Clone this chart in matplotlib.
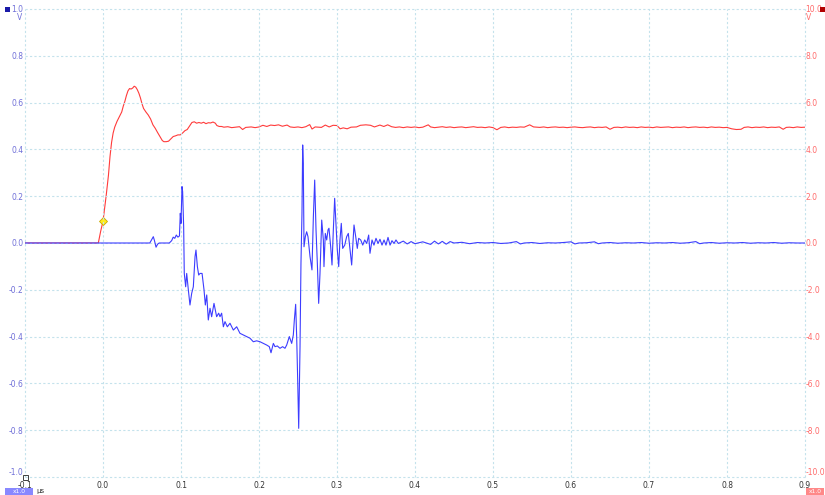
import numpy as np
import matplotlib
matplotlib.use("Agg")
import matplotlib.pyplot as plt
from matplotlib.patches import Rectangle

# channel B (red, right scale, V)
red_t = [-0.1, -0.006, -0.003, 0.0, 0.004, 0.007, 0.009, 0.011, 0.013, 0.015, 0.018, 0.021,
         0.024, 0.026, 0.028, 0.030, 0.032, 0.034, 0.036, 0.038, 0.040, 0.042, 0.044, 0.046,
         0.048, 0.050, 0.052, 0.055, 0.058, 0.061, 0.064, 0.067, 0.070, 0.073, 0.076, 0.078,
         0.081, 0.084, 0.087, 0.090, 0.093, 0.096, 0.099, 0.102, 0.105, 0.108, 0.111, 0.114,
         0.117, 0.120, 0.123, 0.126, 0.129, 0.132, 0.135, 0.138, 0.141, 0.144, 0.146, 0.149,
         0.152, 0.155, 0.160, 0.165, 0.170, 0.175, 0.179, 0.183, 0.190, 0.195, 0.200, 0.205,
         0.210, 0.215, 0.220, 0.225, 0.230, 0.236, 0.240, 0.245, 0.250, 0.255, 0.260, 0.265,
         0.268, 0.272, 0.280, 0.285, 0.290, 0.295, 0.300, 0.304, 0.308, 0.313, 0.318, 0.325,
         0.330, 0.337, 0.343, 0.348, 0.355, 0.360, 0.365, 0.370, 0.375, 0.380, 0.385, 0.390,
         0.395, 0.400, 0.405, 0.410, 0.417, 0.420, 0.425, 0.430, 0.435, 0.440, 0.445, 0.450,
         0.455, 0.460, 0.465, 0.470, 0.475, 0.480, 0.485, 0.490, 0.495, 0.500, 0.505, 0.510,
         0.515, 0.520, 0.525, 0.530, 0.535, 0.540, 0.547, 0.552, 0.560, 0.565, 0.570, 0.575,
         0.580, 0.585, 0.590, 0.595, 0.600, 0.605, 0.610, 0.615, 0.620, 0.625, 0.630, 0.635,
         0.640, 0.645, 0.650, 0.655, 0.660, 0.665, 0.670, 0.675, 0.680, 0.685, 0.690, 0.695,
         0.700, 0.705, 0.710, 0.715, 0.720, 0.725, 0.730, 0.735, 0.740, 0.745, 0.750, 0.755,
         0.760, 0.765, 0.770, 0.775, 0.780, 0.785, 0.790, 0.795, 0.800, 0.806, 0.812, 0.818,
         0.822, 0.827, 0.832, 0.837, 0.842, 0.847, 0.852, 0.857, 0.862, 0.867, 0.872, 0.876,
         0.880, 0.885, 0.890, 0.895, 0.900]
red_v = [0.0, 0.0, 0.5, 0.93, 2.0, 2.9, 3.7, 4.3, 4.7, 4.95, 5.2, 5.4,
         5.6, 5.85, 6.05, 6.3, 6.5, 6.6, 6.58, 6.62, 6.7, 6.66, 6.55, 6.4,
         6.2, 5.95, 5.75, 5.6, 5.47, 5.3, 5.05, 4.9, 4.72, 4.55, 4.38, 4.33,
         4.33, 4.35, 4.45, 4.55, 4.58, 4.62, 4.62, 4.7, 4.8, 4.85, 5.0, 5.15,
         5.18, 5.12, 5.15, 5.12, 5.16, 5.1, 5.14, 5.13, 5.17, 5.12, 5.02, 4.98,
         4.98, 4.95, 4.97, 4.93, 4.95, 4.97, 4.85, 4.94, 4.96, 4.93, 4.96, 5.03,
         4.98, 5.04, 5.02, 5.05, 4.99, 5.04, 4.96, 4.94, 4.96, 4.93, 4.97, 5.06,
         4.87, 4.96, 4.94, 5.04, 4.96, 5.03, 5.02, 4.88, 4.92, 4.88, 4.95, 4.96,
         5.03, 5.05, 5.03, 4.96, 5.04, 4.98, 5.05, 4.97, 4.94, 4.96, 4.93, 4.96,
         4.94, 4.96, 4.93, 4.95, 5.05, 4.96, 4.93, 4.95, 4.97, 4.94, 4.96, 4.93,
         4.95, 4.96, 4.93, 4.95, 4.97, 4.94, 4.95, 4.93, 4.96, 4.93, 4.84, 4.94,
         4.96, 4.93, 4.95, 4.94, 4.96, 4.95, 5.05, 4.96, 4.94, 4.96, 4.93, 4.95,
         4.96, 4.94, 4.95, 4.93, 4.95, 4.96, 4.94, 4.93, 4.95, 4.96, 4.93, 4.95,
         4.94, 4.96, 4.86, 4.94, 4.95, 4.93, 4.96, 4.94, 4.95, 4.93, 4.96, 4.94,
         4.95, 4.93, 4.96, 4.94, 4.95, 4.96, 4.93, 4.95, 4.94, 4.96, 4.93, 4.95,
         4.96, 4.94, 4.95, 4.93, 4.96, 4.94, 4.95, 4.93, 4.94, 4.88, 4.85, 4.86,
         4.94, 4.96, 4.93, 4.95, 4.94, 4.96, 4.93, 4.95, 4.94, 4.96, 4.86, 4.94,
         4.95, 4.93, 4.96, 4.94, 4.95]

# channel A (blue, left scale, V)
blue_t = [-0.1, 0.060, 0.0645, 0.066, 0.068, 0.070, 0.072, 0.085, 0.088, 0.090, 0.092,
          0.094, 0.096, 0.098, 0.0991, 0.1000, 0.1013, 0.1021, 0.1034, 0.1042, 0.1060,
          0.1073, 0.1094, 0.1115, 0.1137, 0.1158, 0.1180, 0.1192, 0.1210, 0.1227, 0.1244,
          0.1270, 0.1295, 0.1312, 0.1330, 0.1350, 0.1372, 0.1393, 0.1423, 0.1457, 0.1483,
          0.1500, 0.1521, 0.1543, 0.1564, 0.1594, 0.1628, 0.1671, 0.1714, 0.1756, 0.1799,
          0.1842, 0.1885, 0.1927, 0.1970, 0.2013, 0.2055, 0.2098, 0.2132, 0.2154, 0.2184,
          0.2205, 0.2235, 0.2269, 0.2303, 0.2333, 0.2355, 0.2389, 0.2419, 0.2440, 0.2453,
          0.2470, 0.2483, 0.2496, 0.2509, 0.2526, 0.2538, 0.2551, 0.2560, 0.2568, 0.2577,
          0.2594, 0.2611, 0.2628, 0.2654, 0.2679, 0.2697, 0.2714, 0.2731, 0.2748, 0.2765,
          0.2782, 0.2804, 0.2825, 0.2833, 0.2850, 0.2868, 0.2885, 0.2897, 0.2919, 0.2936,
          0.2953, 0.2970, 0.2987, 0.3004, 0.3022, 0.3038, 0.3055, 0.3073, 0.3099, 0.3124,
          0.3145, 0.3167, 0.3188, 0.3218, 0.3240, 0.3260, 0.3278, 0.3304, 0.3330, 0.3355,
          0.3381, 0.3406, 0.3423, 0.3449, 0.3474, 0.3500, 0.3526, 0.3551, 0.3577, 0.3603,
          0.3628, 0.3654, 0.3680, 0.3705, 0.3731, 0.3756, 0.3786, 0.385, 0.390, 0.395,
          0.400, 0.410, 0.420, 0.425, 0.430, 0.435, 0.440, 0.445, 0.450, 0.460, 0.470,
          0.480, 0.490, 0.500, 0.510, 0.520, 0.530, 0.535, 0.540, 0.550, 0.560, 0.570,
          0.580, 0.590, 0.600, 0.605, 0.610, 0.620, 0.630, 0.635, 0.640, 0.650, 0.660,
          0.670, 0.680, 0.690, 0.700, 0.710, 0.720, 0.730, 0.740, 0.750, 0.760, 0.765,
          0.770, 0.780, 0.790, 0.800, 0.810, 0.820, 0.830, 0.840, 0.850, 0.860, 0.870,
          0.880, 0.890, 0.900]
blue_v = [0.0, 0.0, 0.027, 0.01, -0.018, -0.005, 0.0, 0.0, 0.01, 0.025, 0.02,
          0.034, 0.025, 0.03, 0.127, 0.084, 0.241, 0.219, 0.07, -0.13, -0.187,
          -0.13, -0.2, -0.265, -0.215, -0.187, -0.058, -0.03, -0.101, -0.137, -0.13,
          -0.13, -0.2, -0.265, -0.222, -0.329, -0.279, -0.315, -0.258, -0.315, -0.3,
          -0.315, -0.3, -0.358, -0.336, -0.358, -0.343, -0.372, -0.358, -0.386, -0.393,
          -0.4, -0.407, -0.422, -0.418, -0.422, -0.429, -0.436, -0.443, -0.469, -0.429,
          -0.443, -0.44, -0.45, -0.443, -0.45, -0.436, -0.4, -0.429, -0.393, -0.329,
          -0.262, -0.4, -0.585, -0.792, -0.443, -0.087, 0.127, 0.419, 0.34, -0.016,
          0.027, 0.048, 0.027, -0.058, -0.115, 0.112, 0.269, 0.056, -0.087, -0.258,
          -0.13, 0.098, 0.013, -0.101, 0.041, 0.013, 0.056, 0.063, -0.016, -0.094,
          0.056, 0.191, 0.084, -0.03, -0.101, 0.013, 0.084, -0.023, -0.009, 0.027,
          0.041, -0.03, -0.094, 0.077, 0.027, -0.023, 0.02, 0.013, -0.009, 0.013,
          -0.002, 0.034, -0.044, 0.013, -0.009, 0.02, -0.002, 0.016, -0.009, 0.013,
          -0.009, 0.024, -0.009, 0.01, -0.002, 0.013, -0.002, 0.008, -0.004, 0.006,
          -0.003, 0.005, -0.006, 0.008, -0.004, 0.007, -0.005, 0.006, 0.0, 0.003, -0.003,
          0.002, 0.0, 0.002, -0.002, 0.0, 0.006, -0.004, 0.0, 0.002, -0.002, 0.001,
          0.0, 0.002, 0.005, -0.004, 0.0, 0.001, 0.005, -0.003, 0.0, 0.002, -0.001,
          0.001, 0.0, 0.002, -0.001, 0.001, 0.0, 0.002, -0.001, 0.001, 0.006, -0.003,
          0.0, 0.002, -0.001, 0.001, 0.0, 0.002, -0.001, 0.001, 0.0, 0.002, -0.001,
          0.001, 0.0, 0.0]

x_ticks = [-0.1, 0.0, 0.1, 0.2, 0.3, 0.4, 0.5, 0.6, 0.7, 0.8, 0.9]
left_ticks = [-1.0, -0.8, -0.6, -0.4, -0.2, 0.0, 0.2, 0.4, 0.6, 0.8, 1.0]
right_ticks = [-10.0, -8.0, -6.0, -4.0, -2.0, 0.0, 2.0, 4.0, 6.0, 8.0, 10.0]
trig_t, trig_v = 0.0, 0.93

BLUE = '#3c3cff'
RED = '#ff3b3b'
GRID = '#c4e2ec'

fig = plt.figure(figsize=(8.25, 4.95), dpi=100)
ax = fig.add_axes([25/825, 18/495, 780/825, 468/495])
ax2 = ax.twinx()
# blue trace drawn over the red one
ax.set_zorder(ax2.get_zorder() + 1)
ax.patch.set_visible(False)

ax.set_xlim(-0.1, 0.9)
ax.set_ylim(-1.0, 1.0)
ax2.set_ylim(-10.0, 10.0)
ax.set_xticks(x_ticks)
ax.set_xticklabels([f'{v:.1f}' for v in x_ticks])
ax.set_yticks(left_ticks)
ax.set_yticklabels([f'{v:.1f}' for v in left_ticks])
ax2.set_yticks(right_ticks)
ax2.set_yticklabels([f'{v:.1f}' for v in right_ticks])

ax2.grid(False)
ax.grid(True, color=GRID, linestyle=(0, (2, 2)), linewidth=0.8, zorder=0)
for a in (ax, ax2):
    for s in a.spines.values():
        s.set_visible(False)
ax.tick_params(axis='x', length=0, pad=2.8, labelsize=5.5, labelcolor='#333333')
ax.tick_params(axis='y', length=0, pad=1, labelsize=5.5, labelcolor='#6f6fd8')
ax2.tick_params(axis='y', length=0, pad=0.5, labelsize=5.5, labelcolor='#ff6a6a')
for gl in ax.get_xgridlines() + ax.get_ygridlines():
    gl.set_clip_on(False)
# lowest y labels sit right on the x axis corner; lift them a touch
ax.get_yticklabels()[0].set_va('bottom')
ax2.get_yticklabels()[0].set_va('bottom')

ax2.plot(red_t, red_v, color=RED, lw=0.8, zorder=2)
ax2.plot([trig_t], [trig_v], marker='D', ms=4, color='#ffee22',
         markeredgecolor='#c8a800', markeredgewidth=0.6, zorder=5)
ax.plot(blue_t, blue_v, color=BLUE, lw=0.8, zorder=3)

# unit labels and channel markers
fig.text(20/825, 1 - 18/495, 'V', fontsize=5.5, color='#6f6fd8', ha='center', va='center')
fig.text(809/825, 1 - 18/495, 'V', fontsize=5.5, color='#ff6a6a', ha='center', va='center')
fig.patches.append(Rectangle((5/825, 1 - 12/495), 5/825, 5/495, transform=fig.transFigure,
                             facecolor='#1a1aa8', edgecolor='none'))
fig.patches.append(Rectangle((820/825, 1 - 12/495), 4.5/825, 5/495, transform=fig.transFigure,
                             facecolor='#b00000', edgecolor='none'))
fig.patches.append(Rectangle((23/825, 1 - 480/495), 5/825, 5/495, transform=fig.transFigure,
                             facecolor='none', edgecolor='#222222', lw=0.6))

# zoom boxes
fig.patches.append(Rectangle((5/825, 0), 28/825, 7.5/495, transform=fig.transFigure,
                             facecolor='#8888ff', edgecolor='none'))
fig.text(19/825, 3.5/495, 'x1.0', fontsize=4.3, color='white', ha='center', va='center')
fig.text(36/825, 3.5/495, 'µs', fontsize=5, color='#333333', ha='left', va='center')
fig.patches.append(Rectangle((806/825, 0), 18/825, 7.5/495, transform=fig.transFigure,
                             facecolor='#ff8888', edgecolor='none'))
fig.text(815/825, 3.5/495, 'x1.0', fontsize=4.3, color='white', ha='center', va='center')

fig.savefig('out.png', dpi=100)
